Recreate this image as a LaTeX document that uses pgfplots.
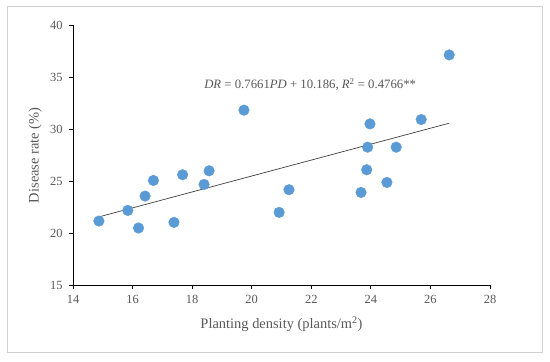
\documentclass[border=0pt]{standalone}
\usepackage{pgfplots}
\pgfplotsset{compat=1.18}
\usepackage{fontspec}
\setmainfont{Liberation Serif}
\definecolor{txt}{HTML}{595959}
\definecolor{ptblue}{HTML}{5B9BD5}
\begin{document}
\begin{tikzpicture}[x=1bp,y=1bp]
\useasboundingbox (0,0) rectangle (550,361);
\fill[white] (0,0) rectangle (550,361);
\draw[color=black!18, line width=0.8bp] (7,9) rectangle (542,355);
\begin{axis}[
  at={(73bp,75.7bp)}, anchor=origin,
  scale only axis, width=417bp, height=260bp,
  xmin=14, xmax=28, ymin=15, ymax=40,
  xtick={14,16,...,28}, ytick={15,20,...,40},
  axis x line=bottom, axis y line=left,
  axis line style={-, black, line width=0.8bp},
  tick align=outside, major tick length=4bp,
  tick style={black, line width=0.8bp},
  /pgf/number format/assume math mode=true,
  ticklabel style={font=\fontsize{12.5}{14}\selectfont, text=txt},
  xticklabel style={yshift=-2bp},
  yticklabel style={xshift=-3bp},
  xlabel={Planting density (plants/m\textsuperscript{2})},
  ylabel={Disease rate (\%)},
  label style={font=\fontsize{14.5}{16}\selectfont, text=txt},
  xlabel style={at={(axis description cs:0.5,-0.15)}, anchor=center},
  ylabel style={at={(axis description cs:-0.091,0.5)}, anchor=center, rotate=0},
  clip=false,
]
\addplot[only marks, mark=*, mark size=5.3bp, color=ptblue, mark options={draw=ptblue, fill=ptblue}] coordinates {
(14.87,21.18) (15.84,22.20) (16.20,20.51) (16.42,23.58) (16.70,25.08)
(17.39,21.05) (17.68,25.63) (18.40,24.70) (18.57,26.01) (19.74,31.84)
(20.92,22.01) (21.25,24.19) (23.67,23.93) (23.86,26.11) (23.89,28.28)
(23.97,30.52) (24.54,24.89) (24.85,28.28) (25.69,30.94) (26.63,37.15)
};
\addplot[color=black!75, line width=0.7bp] coordinates {(14.87,21.578) (26.63,30.587)};
\node[anchor=base west, font=\fontsize{12.8}{14}\selectfont, text=txt, inner sep=0pt] at (axis cs:18.40,33.92)
  {\textit{DR} = 0.7661\textit{PD} + 10.186, \textit{R}\textsuperscript{2} = 0.4766**};
\end{axis}
\end{tikzpicture}
\end{document}
